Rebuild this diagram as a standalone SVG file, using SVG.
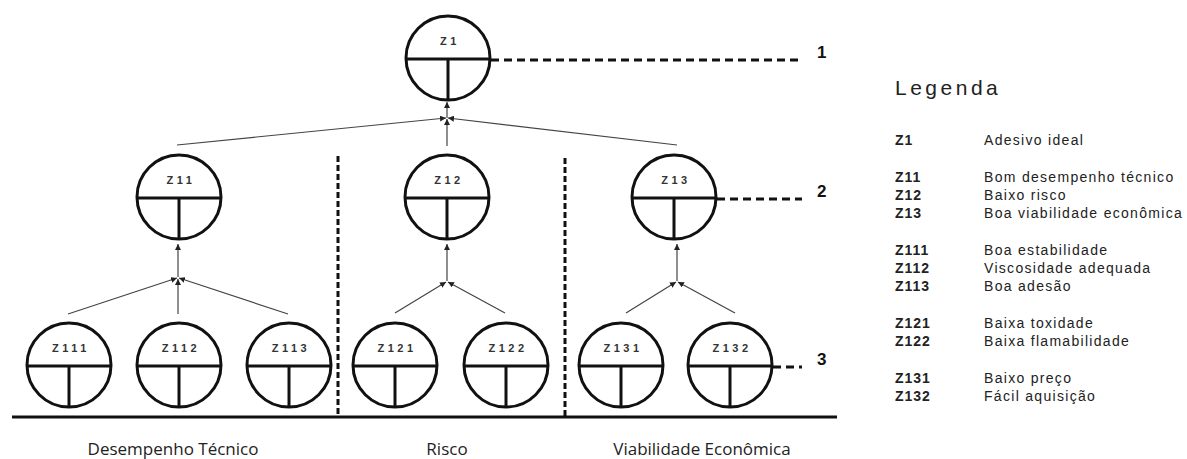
<svg xmlns="http://www.w3.org/2000/svg" width="1187" height="459" viewBox="0 0 1187 459">
<style>
.ntxt{font-family:"Liberation Sans",Arial,sans-serif;font-weight:bold;font-size:11px;letter-spacing:3.5px;fill:#333;text-anchor:middle}
.conn line{stroke:#444;stroke-width:1.2;marker-end:url(#ah)}
.dash{stroke:#111;stroke-width:3;stroke-dasharray:8 5;fill:none}
.vsep{stroke:#111;stroke-width:3;stroke-dasharray:6 3;fill:none}
.lvl{font-family:"Liberation Sans",Arial,sans-serif;font-weight:bold;font-size:17px;fill:#111}
.cat{font-family:"Open Sans",sans-serif;font-size:17px;fill:#222;text-anchor:middle}
.lg-title{font-family:"Liberation Sans",Arial,sans-serif;font-size:21px;letter-spacing:3.5px;fill:#222}
.code{font-family:"Liberation Sans",Arial,sans-serif;font-weight:bold;font-size:14px;letter-spacing:1px;fill:#222}
.desc{font-family:"Liberation Sans",Arial,sans-serif;font-size:14px;letter-spacing:1.3px;fill:#222}
</style>
<defs>
<marker id="ah" viewBox="0 0 10 10" refX="10" refY="5" markerWidth="6" markerHeight="6" markerUnits="userSpaceOnUse" orient="auto">
<path d="M0,0 L10,5 L0,10 z" fill="#222"/>
</marker>
<g id="nodeShape" fill="#fff" stroke="#111" stroke-width="3">
<circle cx="0" cy="0" r="42"/>
<line x1="-42" y1="1" x2="42" y2="1"/>
<line x1="0" y1="1" x2="0" y2="42"/>
</g>
</defs>

<g id="structure">
<line x1="12" y1="417" x2="837" y2="417" stroke="#111" stroke-width="3"/>
<line class="vsep" x1="338" y1="156" x2="338" y2="416"/>
<line class="vsep" x1="565" y1="158" x2="565" y2="416"/>
<line class="dash" x1="491" y1="60" x2="802" y2="60"/>
<line class="dash" x1="717" y1="199" x2="802" y2="199"/>
<line class="dash" x1="773" y1="367" x2="802" y2="367"/>
<text class="lvl" x="817" y="58">1</text>
<text class="lvl" x="817" y="197">2</text>
<text class="lvl" x="817" y="365">3</text>
</g>

<g id="connectors" class="conn">
<line x1="177" y1="145" x2="446" y2="118"/>
<line x1="677" y1="145" x2="448" y2="118"/>
<line x1="447" y1="146" x2="447" y2="119"/>
<line x1="447" y1="118" x2="447" y2="102"/>
<line x1="68" y1="314" x2="177" y2="278"/>
<line x1="178" y1="314" x2="178" y2="279"/>
<line x1="288" y1="314" x2="179" y2="278"/>
<line x1="178" y1="277" x2="178" y2="244"/>
<line x1="395" y1="313" x2="446" y2="282"/>
<line x1="505" y1="313" x2="448" y2="282"/>
<line x1="447" y1="281" x2="447" y2="244"/>
<line x1="626" y1="313" x2="676" y2="282"/>
<line x1="735" y1="313" x2="678" y2="282"/>
<line x1="677" y1="281" x2="677" y2="244"/>
</g>

<g id="Z1" class="node"><use href="#nodeShape" x="448" y="58"/><text class="ntxt" x="450" y="45">Z1</text></g>
<g id="Z11" class="node"><use href="#nodeShape" x="179" y="197"/><text class="ntxt" x="181" y="184">Z11</text></g>
<g id="Z12" class="node"><use href="#nodeShape" x="447" y="197"/><text class="ntxt" x="449" y="184">Z12</text></g>
<g id="Z13" class="node"><use href="#nodeShape" x="674" y="197"/><text class="ntxt" x="676" y="184">Z13</text></g>
<g id="Z111" class="node"><use href="#nodeShape" x="69" y="365"/><text class="ntxt" x="71" y="352">Z111</text></g>
<g id="Z112" class="node"><use href="#nodeShape" x="179" y="365"/><text class="ntxt" x="181" y="352">Z112</text></g>
<g id="Z113" class="node"><use href="#nodeShape" x="289" y="365"/><text class="ntxt" x="291" y="352">Z113</text></g>
<g id="Z121" class="node"><use href="#nodeShape" x="395" y="365"/><text class="ntxt" x="397" y="352">Z121</text></g>
<g id="Z122" class="node"><use href="#nodeShape" x="506" y="365"/><text class="ntxt" x="508" y="352">Z122</text></g>
<g id="Z131" class="node"><use href="#nodeShape" x="621" y="365"/><text class="ntxt" x="623" y="352">Z131</text></g>
<g id="Z132" class="node"><use href="#nodeShape" x="730" y="365"/><text class="ntxt" x="732" y="352">Z132</text></g>

<g id="categories">
<text class="cat" x="173" y="455">Desempenho Técnico</text>
<text class="cat" x="447" y="455">Risco</text>
<text class="cat" x="702" y="455">Viabilidade Econômica</text>
</g>

<g id="legend">
<text class="lg-title" x="895" y="95">Legenda</text>
<text class="code" x="895" y="145">Z1</text><text class="desc" x="984" y="145">Adesivo ideal</text>
<text class="code" x="895" y="182">Z11</text><text class="desc" x="984" y="182">Bom desempenho técnico</text>
<text class="code" x="895" y="200">Z12</text><text class="desc" x="984" y="200">Baixo risco</text>
<text class="code" x="895" y="218">Z13</text><text class="desc" x="984" y="218">Boa viabilidade econômica</text>
<text class="code" x="895" y="255">Z111</text><text class="desc" x="984" y="255">Boa estabilidade</text>
<text class="code" x="895" y="273">Z112</text><text class="desc" x="984" y="273">Viscosidade adequada</text>
<text class="code" x="895" y="291">Z113</text><text class="desc" x="984" y="291">Boa adesão</text>
<text class="code" x="895" y="328">Z121</text><text class="desc" x="984" y="328">Baixa toxidade</text>
<text class="code" x="895" y="346">Z122</text><text class="desc" x="984" y="346">Baixa flamabilidade</text>
<text class="code" x="895" y="383">Z131</text><text class="desc" x="984" y="383">Baixo preço</text>
<text class="code" x="895" y="401">Z132</text><text class="desc" x="984" y="401">Fácil aquisição</text>
</g>
</svg>
